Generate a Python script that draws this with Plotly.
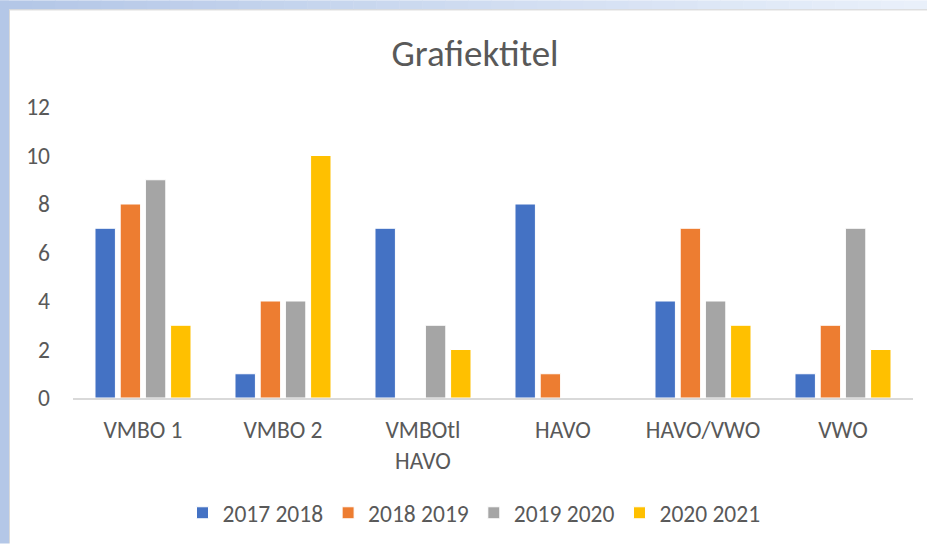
import plotly.graph_objects as go

categories = ["VMBO 1", "VMBO 2", "VMBOtl<br>HAVO", "HAVO", "HAVO/VWO", "VWO"]
series_names = ["2017 2018", "2018 2019", "2019 2020", "2020 2021"]
s2017_2018 = [7, 1, 7, 8, 4, 1]
s2018_2019 = [8, 4, 0, 1, 7, 3]
s2019_2020 = [9, 4, 3, 0, 4, 7]
s2020_2021 = [3, 10, 2, 0, 3, 2]
y_ticks = [0, 2, 4, 6, 8, 10, 12]

series_values = [s2017_2018, s2018_2019, s2019_2020, s2020_2021]
colors = ["#4472C4", "#ED7D31", "#A5A5A5", "#FFC000"]
text_color = "#595959"
FONT = "Calibri, Carlito, Lato, sans-serif"
FS = 23.5

W, H = 927, 545
ML, MR, MT, MB = 73, 14, 107, 146
PW, PH = W - ML - MR, H - MT - MB


def px(xp):
    return (xp - ML) / PW


def py(yp):
    return (H - MB - yp) / PH


fig = go.Figure()
for name, vals, col in zip(series_names, series_values, colors):
    fig.add_trace(go.Bar(
        x=categories, y=vals, name=name,
        marker=dict(color=col, line=dict(color="white", width=1)),
    ))

shapes = []
# left blue strip
shapes.append(dict(type="rect", xref="paper", yref="paper",
                   x0=px(0), x1=px(9), y0=py(H), y1=py(0),
                   fillcolor="#B4C7E7", line=dict(width=0), layer="below"))
# top gradient strip
c0 = (0xB4, 0xC7, 0xE7)
c1 = (0xE9, 0xF0, 0xFA)
n = 40
for i in range(n):
    t = i / (n - 1)
    c = tuple(int(round(a + (b - a) * t)) for a, b in zip(c0, c1))
    shapes.append(dict(type="rect", xref="paper", yref="paper",
                       x0=px(9 + (W - 9) * i / n), x1=px(9 + (W - 9) * (i + 1) / n + 0.5),
                       y0=py(9), y1=py(0),
                       fillcolor="rgb(%d,%d,%d)" % c, line=dict(width=0), layer="below"))
# thin edge lines of the chart area
shapes.append(dict(type="line", xref="paper", yref="paper",
                   x0=px(9), x1=px(W), y0=py(9.5), y1=py(9.5),
                   line=dict(color="#CFCFCF", width=1), layer="below"))
shapes.append(dict(type="line", xref="paper", yref="paper",
                   x0=px(9.5), x1=px(9.5), y0=py(H), y1=py(9),
                   line=dict(color="#DADADA", width=1), layer="below"))

fig.update_layout(
    width=W, height=H,
    margin=dict(l=ML, r=MR, t=MT, b=MB, pad=0),
    paper_bgcolor="white",
    plot_bgcolor="rgba(0,0,0,0)",
    font=dict(family=FONT, color=text_color, size=FS),
    barmode="group",
    bargap=0.28,
    bargroupgap=0.19,
    title=dict(text="Grafiektitel", xref="container", x=475 / W, xanchor="center",
               yref="container", y=1 - 53 / H, yanchor="middle",
               font=dict(size=37, color=text_color, family=FONT)),
    showlegend=True,
    legend=dict(orientation="h", xref="paper", x=px(474), xanchor="center",
                yref="paper", y=py(513), yanchor="middle",
                font=dict(size=FS, color=text_color, family=FONT),
                bgcolor="rgba(0,0,0,0)", traceorder="normal"),
    shapes=shapes,
)
fig.update_xaxes(showgrid=False, showline=True, linecolor="#D9D9D9", linewidth=2,
                 ticks="", tickfont=dict(size=FS, color=text_color),
                 ticklabelstandoff=10, zeroline=False)
fig.update_yaxes(range=[0, 12], tickvals=y_ticks, showgrid=False, showline=False,
                 zeroline=False, ticks="", tickfont=dict(size=FS, color=text_color),
                 ticklabelstandoff=22)

fig.write_html("out.html",
               config={"displayModeBar": False},
               post_script="document.body.style.margin='0px';document.body.style.padding='0px';")
